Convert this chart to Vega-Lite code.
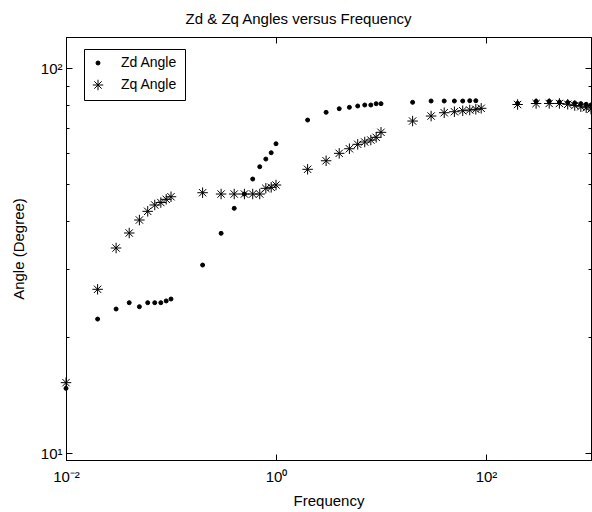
{
  "$schema": "https://vega.github.io/schema/vega-lite/v6.json",
  "width": 525,
  "height": 423,
  "autosize": "none",
  "padding": {"left": 66, "top": 37, "right": 1, "bottom": 52},
  "background": "white",
  "config": {
    "font": "Liberation Sans",
    "view": {"stroke": "black", "strokeWidth": 1},
    "axis": {"domainColor": "black", "tickColor": "black", "labelColor": "black", "titleColor": "black", "grid": false, "labelFontSize": 15, "titleFontSize": 15, "titleFontWeight": "normal", "labelOverlap": false, "labelFlush": false}
  },
  "title": {"text": "Zd & Zq Angles versus Frequency", "fontSize": 15, "fontWeight": "normal", "offset": 10, "color": "black", "font": "Liberation Sans", "dx": -30},
  "datasets": {
    "pts": [
      {"f": 0.01, "s": "Zd Angle", "a": 14.72},
      {"f": 0.02, "s": "Zd Angle", "a": 22.28},
      {"f": 0.03, "s": "Zd Angle", "a": 23.66},
      {"f": 0.04, "s": "Zd Angle", "a": 24.57},
      {"f": 0.05, "s": "Zd Angle", "a": 23.99},
      {"f": 0.06, "s": "Zd Angle", "a": 24.57},
      {"f": 0.07, "s": "Zd Angle", "a": 24.57},
      {"f": 0.08, "s": "Zd Angle", "a": 24.57},
      {"f": 0.09, "s": "Zd Angle", "a": 24.83},
      {"f": 0.1, "s": "Zd Angle", "a": 25.12},
      {"f": 0.2, "s": "Zd Angle", "a": 30.78},
      {"f": 0.3, "s": "Zd Angle", "a": 37.21},
      {"f": 0.4, "s": "Zd Angle", "a": 43.21},
      {"f": 0.5, "s": "Zd Angle", "a": 47.07},
      {"f": 0.6, "s": "Zd Angle", "a": 51.48},
      {"f": 0.7, "s": "Zd Angle", "a": 55.41},
      {"f": 0.8, "s": "Zd Angle", "a": 58.02},
      {"f": 0.9, "s": "Zd Angle", "a": 60.26},
      {"f": 1, "s": "Zd Angle", "a": 63.58},
      {"f": 2, "s": "Zd Angle", "a": 73.27},
      {"f": 3, "s": "Zd Angle", "a": 76.73},
      {"f": 4, "s": "Zd Angle", "a": 78.41},
      {"f": 5, "s": "Zd Angle", "a": 79.06},
      {"f": 6, "s": "Zd Angle", "a": 79.68},
      {"f": 7, "s": "Zd Angle", "a": 80.16},
      {"f": 8, "s": "Zd Angle", "a": 80.16},
      {"f": 9, "s": "Zd Angle", "a": 80.79},
      {"f": 10, "s": "Zd Angle", "a": 80.79},
      {"f": 20, "s": "Zd Angle", "a": 81.46},
      {"f": 30, "s": "Zd Angle", "a": 82.1},
      {"f": 40, "s": "Zd Angle", "a": 82.1},
      {"f": 50, "s": "Zd Angle", "a": 82.1},
      {"f": 60, "s": "Zd Angle", "a": 82.1},
      {"f": 70, "s": "Zd Angle", "a": 82.24},
      {"f": 80, "s": "Zd Angle", "a": 82.24},
      {"f": 200, "s": "Zd Angle", "a": 80.97},
      {"f": 300, "s": "Zd Angle", "a": 81.95},
      {"f": 400, "s": "Zd Angle", "a": 81.95},
      {"f": 500, "s": "Zd Angle", "a": 81.6},
      {"f": 600, "s": "Zd Angle", "a": 81.4},
      {"f": 700, "s": "Zd Angle", "a": 81.12},
      {"f": 800, "s": "Zd Angle", "a": 80.8},
      {"f": 900, "s": "Zd Angle", "a": 80.5},
      {"f": 1000, "s": "Zd Angle", "a": 80.2},
      {"f": 0.01, "s": "Zq Angle", "a": 15.23},
      {"f": 0.02, "s": "Zq Angle", "a": 26.62},
      {"f": 0.03, "s": "Zq Angle", "a": 34.08},
      {"f": 0.04, "s": "Zq Angle", "a": 37.28},
      {"f": 0.05, "s": "Zq Angle", "a": 40.29},
      {"f": 0.06, "s": "Zq Angle", "a": 42.44},
      {"f": 0.07, "s": "Zq Angle", "a": 44.08},
      {"f": 0.08, "s": "Zq Angle", "a": 44.73},
      {"f": 0.09, "s": "Zq Angle", "a": 45.6},
      {"f": 0.1, "s": "Zq Angle", "a": 46.31},
      {"f": 0.2, "s": "Zq Angle", "a": 47.44},
      {"f": 0.3, "s": "Zq Angle", "a": 47.07},
      {"f": 0.4, "s": "Zq Angle", "a": 47.07},
      {"f": 0.5, "s": "Zq Angle", "a": 47.07},
      {"f": 0.6, "s": "Zq Angle", "a": 47.07},
      {"f": 0.7, "s": "Zq Angle", "a": 47.07},
      {"f": 0.8, "s": "Zq Angle", "a": 48.7},
      {"f": 0.9, "s": "Zq Angle", "a": 48.99},
      {"f": 1, "s": "Zq Angle", "a": 49.67},
      {"f": 2, "s": "Zq Angle", "a": 54.57},
      {"f": 3, "s": "Zq Angle", "a": 57.43},
      {"f": 4, "s": "Zq Angle", "a": 60.03},
      {"f": 5, "s": "Zq Angle", "a": 61.71},
      {"f": 6, "s": "Zq Angle", "a": 63.36},
      {"f": 7, "s": "Zq Angle", "a": 64.24},
      {"f": 8, "s": "Zq Angle", "a": 65.01},
      {"f": 9, "s": "Zq Angle", "a": 66.07},
      {"f": 10, "s": "Zq Angle", "a": 68.08},
      {"f": 20, "s": "Zq Angle", "a": 72.83},
      {"f": 30, "s": "Zq Angle", "a": 75.04},
      {"f": 40, "s": "Zq Angle", "a": 76.55},
      {"f": 50, "s": "Zq Angle", "a": 77.01},
      {"f": 60, "s": "Zq Angle", "a": 77.47},
      {"f": 70, "s": "Zq Angle", "a": 77.8},
      {"f": 80, "s": "Zq Angle", "a": 78.12},
      {"f": 90, "s": "Zq Angle", "a": 78.59},
      {"f": 200, "s": "Zq Angle", "a": 80.4},
      {"f": 300, "s": "Zq Angle", "a": 80.88},
      {"f": 400, "s": "Zq Angle", "a": 80.9},
      {"f": 500, "s": "Zq Angle", "a": 80.9},
      {"f": 600, "s": "Zq Angle", "a": 80.5},
      {"f": 700, "s": "Zq Angle", "a": 79.9},
      {"f": 800, "s": "Zq Angle", "a": 79.35},
      {"f": 900, "s": "Zq Angle", "a": 78.87},
      {"f": 1000, "s": "Zq Angle", "a": 78.26}
    ]
  },
  "layer": [
    {
      "data": {"name": "pts"},
      "mark": {"type": "point", "filled": true, "fill": "black", "stroke": "black", "strokeWidth": 1, "opacity": 1},
      "encoding": {
        "x": {"field": "f", "type": "quantitative", "scale": {"type": "log", "domain": [0.01, 1000], "nice": false},
          "axis": {"orient": "bottom", "values": [0.01, 1, 100], "labelExpr": "datum.value < 0.1 ? '10⁻²' : datum.value < 10 ? '10⁰' : '10²'", "tickSize": -6, "labelPadding": 15, "title": "Frequency", "titlePadding": 9}},
        "y": {"field": "a", "type": "quantitative", "scale": {"type": "log", "domain": [9.59, 120.4], "nice": false, "zero": false},
          "axis": {"orient": "left", "values": [10, 20, 30, 40, 50, 60, 70, 80, 90, 100], "labelExpr": "datum.value == 10 ? '10¹' : datum.value == 100 ? '10²' : ''", "tickSize": {"condition": {"test": "datum.value == 10 || datum.value == 100", "value": -6}, "value": -3}, "labelPadding": 10, "title": "Angle (Degree)", "titlePadding": 14}},
        "shape": {"field": "s", "type": "nominal", "scale": {"domain": ["Zd Angle", "Zq Angle"], "range": ["circle", "M-1,0L1,0M0,-1L0,1M-0.7,-0.7L0.7,0.7M-0.7,0.7L0.7,-0.7"]},
          "legend": {"title": null, "orient": "none", "legendX": 18, "legendY": 12, "strokeColor": "black", "fillColor": "white", "padding": 7, "labelFontSize": 14, "labelColor": "black", "labelFont": "Liberation Sans", "labelOffset": 16, "rowPadding": 7, "symbolFillColor": "black", "symbolStrokeColor": "black", "symbolStrokeWidth": 1, "labelExpr": "datum.label + '\u00a0\u00a0\u00a0\u00a0\u00a0\u00a0\u00a0\u00a0\u00a0\u00a0\u00a0\u00a0'"}},
        "size": {"field": "s", "type": "ordinal", "scale": {"domain": ["Zd Angle", "Zq Angle"], "range": [16, 110]}}
      }
    },
    {
      "data": {"name": "pts"},
      "mark": {"type": "point", "opacity": 0},
      "encoding": {
        "x": {"field": "f", "type": "quantitative", "scale": {"type": "log", "domain": [0.01, 1000], "nice": false},
          "axis": {"orient": "top", "values": [0.01, 1, 100], "labels": false, "tickSize": -6, "title": null}},
        "y": {"field": "a", "type": "quantitative", "scale": {"type": "log", "domain": [9.59, 120.4], "nice": false, "zero": false},
          "axis": {"orient": "right", "values": [10, 20, 30, 40, 50, 60, 70, 80, 90, 100], "labels": false, "tickSize": {"condition": {"test": "datum.value == 10 || datum.value == 100", "value": -6}, "value": -3}, "title": null}}
      }
    }
  ],
  "resolve": {"axis": {"x": "independent", "y": "independent"}}
}
